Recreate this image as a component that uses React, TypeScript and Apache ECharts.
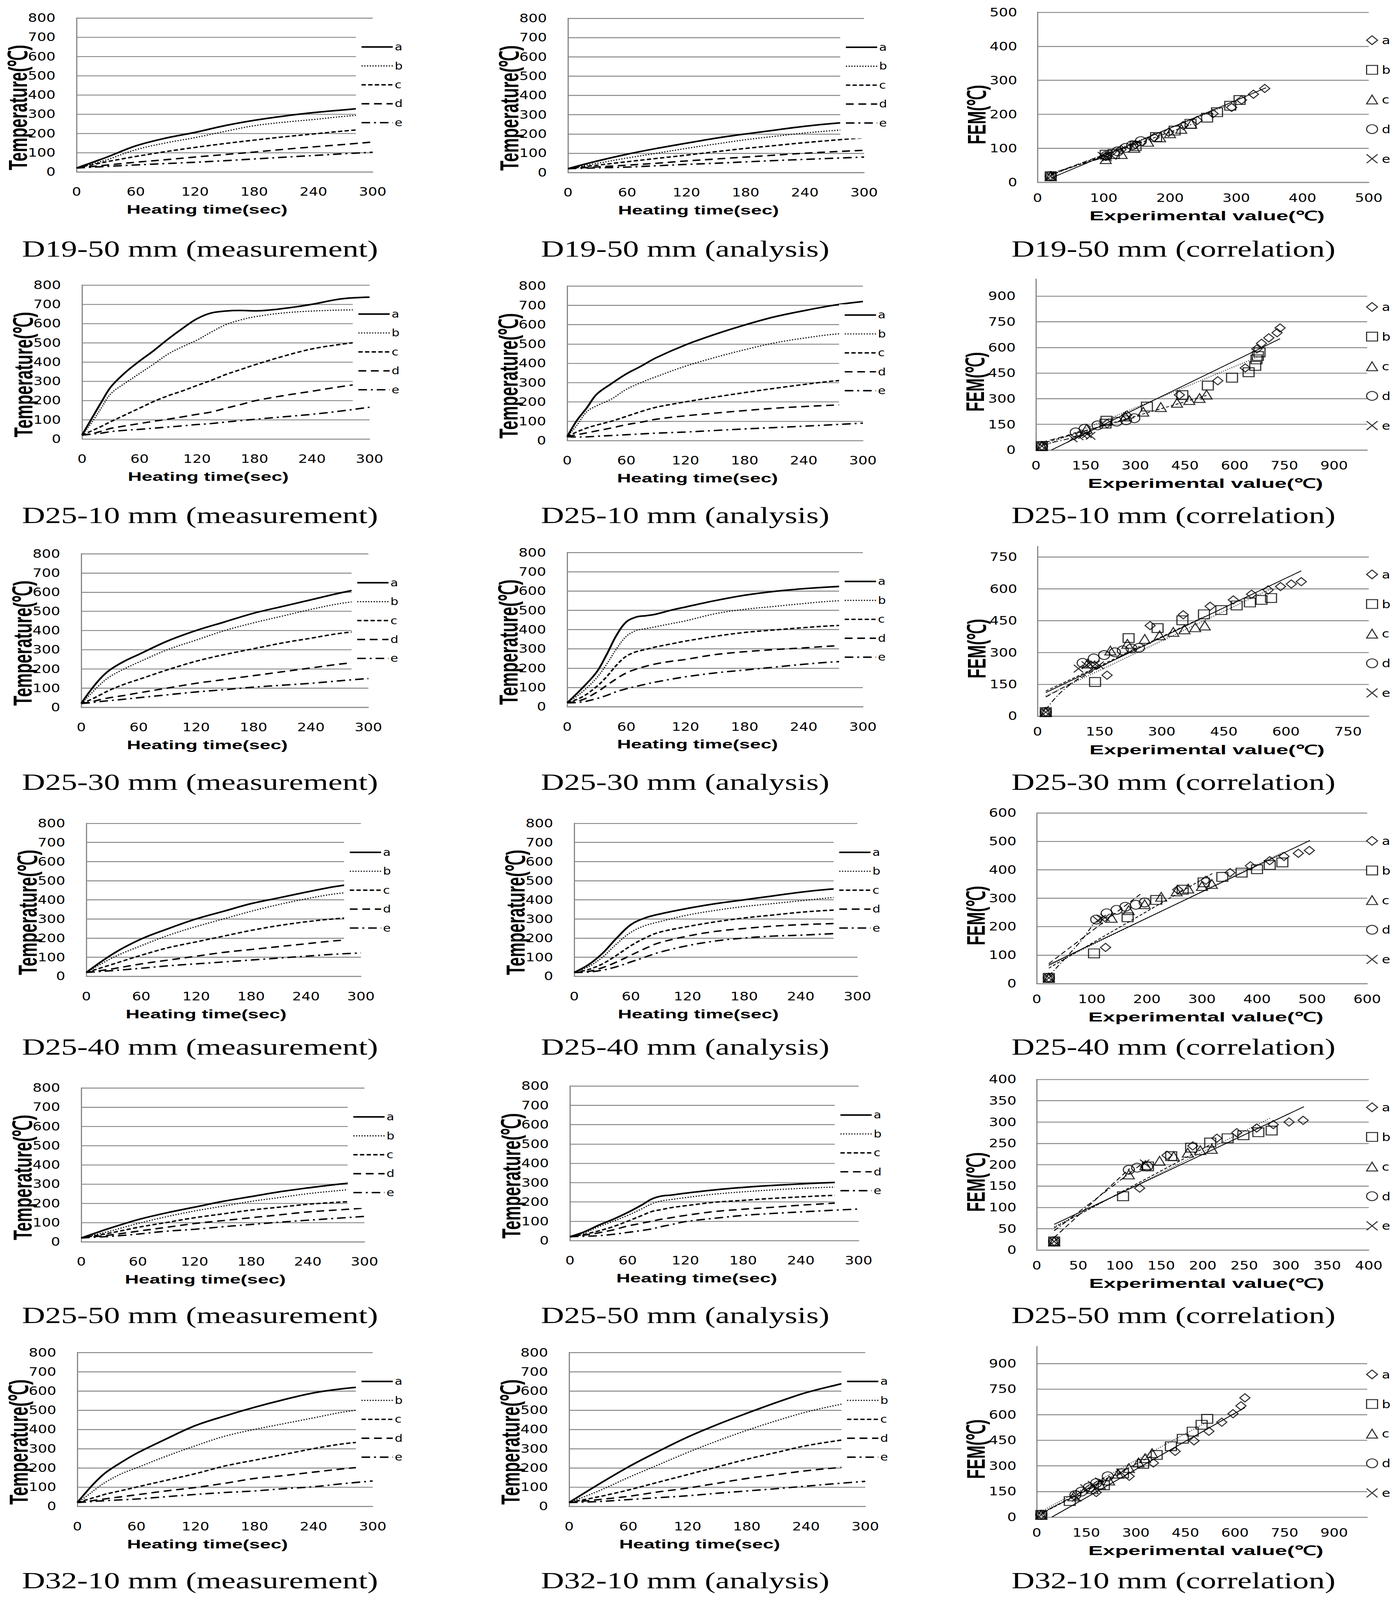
import React, { useEffect, useRef } from "react";
import * as echarts from "echarts";

// ======================= DATA =======================
const T_STD = [0, 30, 60, 90, 120, 150, 180, 210, 240, 270, 300];

// D19-50 measurement
const D1950_MEAS_T = T_STD;
const D1950_MEAS_A = [20, 75, 135, 175, 205, 240, 268, 290, 308, 322, 335];
const D1950_MEAS_B = [20, 62, 115, 150, 178, 210, 240, 258, 272, 288, 300];
const D1950_MEAS_C = [20, 52, 80, 105, 127, 147, 165, 182, 197, 212, 225];
const D1950_MEAS_D = [20, 35, 50, 63, 77, 90, 103, 117, 130, 142, 155];
const D1950_MEAS_E = [20, 28, 36, 43, 50, 58, 67, 76, 85, 94, 102];

// D19-50 analysis
const D1950_ANAL_T = T_STD;
const D1950_ANAL_A = [20, 60, 95, 125, 152, 178, 200, 220, 240, 255, 265];
const D1950_ANAL_B = [20, 48, 75, 100, 125, 148, 170, 188, 205, 218, 230];
const D1950_ANAL_C = [20, 38, 56, 73, 90, 108, 125, 140, 155, 168, 180];
const D1950_ANAL_D = [20, 29, 38, 48, 60, 70, 80, 90, 100, 108, 115];
const D1950_ANAL_E = [20, 24, 28, 35, 42, 48, 55, 62, 68, 74, 80];

// D25-10 measurement
const D2510_MEAS_T = [0, 10, 20, 30, 45, 60, 75, 90, 105, 120, 135, 150, 165, 180, 210, 240, 270, 300];
const D2510_MEAS_A = [20, 105, 190, 270, 345, 405, 460, 520, 575, 625, 655, 665, 668, 666, 678, 700, 728, 737];
const D2510_MEAS_B = [20, 85, 160, 235, 290, 340, 390, 442, 480, 514, 556, 594, 618, 635, 655, 665, 670, 672];
const D2510_MEAS_C = [20, 42, 65, 90, 125, 160, 195, 225, 250, 278, 305, 335, 360, 385, 430, 468, 492, 510];
const D2510_MEAS_D = [20, 27, 40, 55, 68, 80, 92, 103, 115, 128, 140, 160, 178, 198, 225, 248, 272, 292];
const D2510_MEAS_E = [20, 25, 30, 38, 45, 50, 56, 62, 68, 75, 80, 88, 95, 102, 115, 128, 145, 165];

// D25-10 analysis
const D2510_ANAL_T = [0, 10, 20, 30, 45, 60, 75, 90, 120, 150, 180, 210, 240, 270, 300];
const D2510_ANAL_A = [20, 105, 170, 240, 295, 345, 385, 428, 495, 550, 598, 640, 672, 700, 720];
const D2510_ANAL_B = [20, 80, 150, 180, 215, 265, 300, 330, 385, 430, 470, 505, 530, 550, 560];
const D2510_ANAL_C = [20, 45, 65, 80, 100, 125, 150, 172, 200, 225, 248, 270, 290, 308, 318];
const D2510_ANAL_D = [20, 30, 40, 50, 65, 82, 95, 110, 128, 142, 155, 167, 176, 183, 188];
const D2510_ANAL_E = [20, 18, 19, 22, 26, 30, 34, 38, 44, 52, 60, 67, 74, 82, 90];

// D25-30 measurement
const D2530_MEAS_T = [0, 10, 20, 30, 45, 60, 90, 120, 150, 180, 210, 240, 270, 300];
const D2530_MEAS_A = [20, 90, 150, 195, 240, 275, 345, 400, 445, 490, 525, 560, 595, 625];
const D2530_MEAS_B = [20, 70, 120, 160, 200, 235, 300, 350, 400, 440, 475, 510, 540, 560];
const D2530_MEAS_C = [20, 40, 65, 90, 120, 145, 195, 240, 275, 305, 335, 360, 385, 400];
const D2530_MEAS_D = [20, 28, 40, 50, 62, 75, 100, 125, 145, 165, 185, 205, 225, 240];
const D2530_MEAS_E = [20, 24, 30, 35, 42, 50, 65, 80, 92, 105, 115, 125, 138, 150];

// D25-30 analysis
const D2530_ANAL_T = [0, 15, 30, 40, 50, 60, 70, 80, 90, 105, 120, 150, 180, 210, 240, 270, 300];
const D2530_ANAL_A = [20, 95, 180, 270, 370, 440, 465, 472, 480, 500, 517, 550, 578, 598, 612, 622, 630];
const D2530_ANAL_B = [20, 75, 150, 220, 300, 365, 395, 405, 415, 430, 445, 482, 505, 520, 535, 548, 555];
const D2530_ANAL_C = [20, 50, 105, 155, 215, 262, 285, 297, 310, 325, 340, 365, 385, 398, 410, 420, 425];
const D2530_ANAL_D = [20, 35, 75, 110, 145, 175, 195, 210, 222, 235, 245, 270, 285, 296, 305, 315, 320];
const D2530_ANAL_E = [20, 24, 42, 58, 78, 93, 105, 117, 128, 142, 155, 175, 190, 205, 220, 232, 238];

// D25-40 measurement
const D2540_MEAS_T = T_STD;
const D2540_MEAS_A = [20, 120, 195, 250, 300, 340, 380, 410, 440, 468, 488];
const D2540_MEAS_B = [20, 100, 160, 215, 260, 300, 340, 375, 405, 430, 445];
const D2540_MEAS_C = [20, 65, 110, 150, 180, 210, 240, 265, 285, 300, 310];
const D2540_MEAS_D = [20, 40, 65, 85, 105, 125, 140, 155, 170, 185, 195];
const D2540_MEAS_E = [20, 30, 42, 55, 65, 75, 85, 95, 105, 115, 122];

// D25-40 analysis
const D2540_ANAL_T = [0, 15, 30, 45, 60, 75, 90, 120, 150, 180, 210, 240, 270, 300];
const D2540_ANAL_A = [20, 60, 120, 200, 270, 305, 325, 355, 380, 400, 420, 440, 455, 465];
const D2540_ANAL_B = [20, 50, 100, 170, 230, 265, 285, 320, 345, 365, 380, 395, 410, 420];
const D2540_ANAL_C = [20, 35, 65, 110, 160, 200, 230, 260, 285, 305, 320, 335, 345, 350];
const D2540_ANAL_D = [20, 25, 45, 75, 110, 145, 175, 210, 235, 250, 262, 270, 275, 280];
const D2540_ANAL_E = [20, 22, 32, 50, 75, 100, 125, 160, 185, 200, 210, 215, 222, 228];

// D25-50 measurement
const D2550_MEAS_T = T_STD;
const D2550_MEAS_A = [20, 70, 115, 150, 180, 210, 235, 260, 280, 298, 312];
const D2550_MEAS_B = [20, 55, 95, 130, 160, 185, 210, 230, 250, 265, 278];
const D2550_MEAS_C = [20, 45, 75, 100, 125, 145, 165, 180, 195, 205, 212];
const D2550_MEAS_D = [20, 35, 55, 75, 95, 110, 125, 140, 155, 165, 175];
const D2550_MEAS_E = [20, 28, 40, 55, 65, 78, 90, 102, 112, 122, 132];

// D25-50 analysis
const D2550_ANAL_T = [0, 15, 30, 45, 60, 75, 85, 95, 105, 120, 150, 180, 210, 240, 270, 300];
const D2550_ANAL_A = [20, 45, 80, 110, 145, 185, 215, 230, 235, 245, 262, 275, 285, 293, 300, 303];
const D2550_ANAL_B = [20, 40, 72, 100, 130, 165, 190, 205, 212, 222, 240, 252, 262, 270, 276, 280];
const D2550_ANAL_C = [20, 32, 50, 72, 100, 130, 150, 160, 170, 180, 198, 208, 218, 226, 233, 236];
const D2550_ANAL_D = [20, 28, 40, 55, 75, 90, 100, 110, 118, 130, 150, 162, 172, 183, 192, 200];
const D2550_ANAL_E = [20, 22, 25, 32, 42, 52, 60, 72, 82, 98, 115, 130, 140, 148, 156, 163];

// D32-10 measurement
const D3210_MEAS_T = [0, 10, 20, 30, 45, 60, 90, 120, 150, 180, 210, 240, 270, 300];
const D3210_MEAS_A = [20, 80, 135, 180, 230, 275, 350, 420, 470, 515, 555, 590, 612, 625];
const D3210_MEAS_B = [20, 55, 95, 130, 170, 200, 260, 315, 365, 400, 430, 460, 490, 510];
const D3210_MEAS_C = [20, 35, 50, 65, 82, 100, 135, 170, 210, 240, 270, 300, 325, 340];
const D3210_MEAS_D = [20, 26, 33, 40, 50, 60, 80, 98, 120, 145, 160, 178, 195, 210];
const D3210_MEAS_E = [20, 23, 27, 30, 34, 38, 50, 62, 72, 80, 92, 102, 118, 132];

// D32-10 analysis
const D3210_ANAL_T = T_STD;
const D3210_ANAL_A = [20, 115, 205, 285, 360, 425, 484, 540, 591, 630, 665];
const D3210_ANAL_B = [20, 80, 150, 215, 280, 340, 395, 445, 490, 525, 555];
const D3210_ANAL_C = [20, 50, 85, 125, 165, 205, 245, 280, 315, 340, 362];
const D3210_ANAL_D = [20, 35, 52, 75, 95, 120, 145, 165, 185, 200, 215];
const D3210_ANAL_E = [20, 25, 35, 45, 55, 68, 80, 92, 105, 118, 130];

// ---- correlation: [experimental, FEM] ----
const C1950_A = [[20, 18], [103, 76], [126, 96], [148, 111], [176, 132], [198, 147], [220, 167], [241, 182], [265, 202], [293, 220], [308, 242], [326, 259], [343, 276]];
const C1950_B = [[20, 18], [103, 81], [115, 83], [148, 106], [179, 133], [207, 152], [231, 172], [256, 190], [271, 206], [291, 225], [305, 242]];
const C1950_C = [[20, 18], [103, 68], [127, 83], [146, 101], [167, 119], [185, 132], [200, 144], [217, 157], [232, 172]];
const C1950_D = [[20, 18], [104, 78], [121, 91], [133, 101], [143, 109], [156, 121]];
const C1950_E = [[20, 18], [98, 78], [105, 73], [112, 78]];
const C1950_TA = [[20, 12], [345, 278]];
const C1950_TB = [[20, 20], [305, 240]];
const C1950_TC = [[20, 22], [232, 170]];
const C1950_TD = [[20, 24], [156, 120]];
const C1950_TE = [[20, 26], [112, 80]];

const C2510_A = [[18, 23], [215, 154], [274, 204], [433, 322], [549, 405], [632, 480], [667, 591], [681, 624], [703, 656], [728, 686], [737, 714]];
const C2510_B = [[18, 23], [210, 154], [213, 171], [335, 254], [442, 321], [519, 377], [592, 423], [642, 455], [662, 492], [666, 530], [670, 550], [675, 571]];
const C2510_C = [[18, 23], [153, 124], [270, 196], [324, 224], [377, 251], [426, 276], [463, 292], [494, 304], [515, 324]];
const C2510_D = [[18, 23], [120, 103], [147, 124], [186, 144], [244, 166], [272, 174], [297, 186]];
const C2510_E = [[18, 23], [111, 68], [129, 80], [142, 88], [154, 93], [165, 83]];
const C2510_TA = [[47, 0], [737, 651]];
const C2510_TB = [[18, 20], [670, 545]];
const C2510_TC = [[18, 38], [515, 319]];
const C2510_TD = [[18, 45], [297, 190]];
const C2510_TE = [[18, 30], [165, 95]];

const C2530_A = [[20, 19], [168, 193], [272, 427], [352, 478], [417, 518], [473, 548], [517, 575], [557, 595], [587, 611], [613, 623], [637, 634]];
const C2530_B = [[20, 19], [139, 161], [220, 368], [290, 415], [350, 452], [402, 480], [444, 500], [481, 522], [513, 536], [541, 548], [564, 557]];
const C2530_C = [[20, 19], [121, 248], [176, 309], [217, 341], [259, 364], [295, 381], [328, 397], [355, 409], [381, 419], [404, 427]];
const C2530_D = [[20, 19], [109, 251], [136, 272], [161, 288], [187, 301], [206, 310], [227, 319], [245, 322]];
const C2530_E = [[20, 19], [99, 224], [118, 240], [128, 244], [139, 244], [149, 240]];
const C2530_TA = [[20, 111], [637, 685]];
const C2530_TB = [[20, 95], [564, 600]];
const C2530_TC = [[20, 118], [404, 470]];
const C2530_TD = [[20, 90], [245, 330]];
const C2530_TE = [[20, 31], [50, 100], [80, 150], [149, 245]];

const C2540_A = [[22, 20], [125, 127], [256, 330], [307, 363], [351, 390], [388, 414], [423, 432], [449, 447], [475, 458], [495, 468]];
const C2540_B = [[22, 20], [104, 106], [165, 233], [217, 294], [265, 330], [303, 356], [337, 375], [372, 390], [400, 402], [423, 417], [446, 426]];
const C2540_C = [[22, 20], [136, 231], [167, 258], [196, 279], [226, 305], [254, 324], [275, 334], [300, 343], [318, 350]];
const C2540_D = [[22, 20], [108, 225], [127, 247], [145, 259], [161, 270], [180, 277], [196, 285]];
const C2540_E = [[22, 20], [111, 222], [117, 228], [124, 232]];
const C2540_TA = [[22, 66], [496, 503]];
const C2540_TB = [[22, 62], [447, 462]];
const C2540_TC = [[22, 54], [319, 387]];
const C2540_TD = [[22, 70], [188, 314]];
const C2540_TE = [[22, 27], [82, 154], [104, 214]];

const C2550_A = [[21, 20], [124, 145], [157, 222], [188, 244], [217, 262], [241, 275], [265, 286], [285, 294], [304, 300], [321, 304]];
const C2550_B = [[21, 20], [104, 126], [134, 196], [162, 220], [186, 240], [209, 252], [230, 262], [249, 269], [267, 276], [283, 280]];
const C2550_C = [[21, 20], [111, 177], [131, 199], [148, 209], [165, 220], [182, 228], [197, 234], [211, 237]];
const C2550_D = [[21, 20], [111, 188], [121, 193], [133, 196]];
const C2550_E = [[21, 20], [130, 203]];
const C2550_TA = [[21, 60], [322, 336]];
const C2550_TB = [[21, 55], [282, 310]];
const C2550_TC = [[21, 52], [212, 250]];
const C2550_TD = [[21, 29], [112, 191]];
const C2550_TE = [[21, 45], [130, 207]];

const C3210_A = [[14, 13], [180, 144], [280, 239], [353, 317], [419, 385], [476, 447], [521, 503], [560, 556], [594, 606], [618, 652], [630, 699]];
const C3210_B = [[14, 13], [100, 94], [203, 186], [261, 256], [322, 312], [363, 364], [406, 415], [442, 459], [472, 501], [499, 541], [516, 576]];
const C3210_C = [[14, 13], [112, 121], [169, 164], [191, 191], [219, 214], [246, 254], [279, 287], [308, 320], [328, 345], [349, 375]];
const C3210_D = [[14, 13], [117, 129], [135, 149], [158, 174], [180, 199], [215, 239]];
const C3210_E = [[14, 13], [121, 114], [146, 169], [169, 189], [191, 209], [255, 261]];
const C3210_TA = [[46, 0], [630, 642]];
const C3210_TB = [[14, 33], [519, 561]];
const C3210_TC = [[14, 20], [349, 360]];
const C3210_TD = [[14, 22], [215, 230]];
const C3210_TE = [[14, 25], [255, 255]];

const SERIES_NAMES = ["a", "b", "c", "d", "e"];
const CORR_SERIES_NAMES = ["ka", "kb", "kc", "kd", "ke"];

const PANELS: any[] = [
  { kind: "time", caption: "D19-50 mm (measurement)", t: D1950_MEAS_T, v: [D1950_MEAS_A, D1950_MEAS_B, D1950_MEAS_C, D1950_MEAS_D, D1950_MEAS_E] },
  { kind: "time", caption: "D19-50 mm (analysis)", t: D1950_ANAL_T, v: [D1950_ANAL_A, D1950_ANAL_B, D1950_ANAL_C, D1950_ANAL_D, D1950_ANAL_E] },
  { kind: "corr", caption: "D19-50 mm (correlation)", max: 500, interval: 100, pts: [C1950_A, C1950_B, C1950_C, C1950_D, C1950_E], trends: [C1950_TA, C1950_TB, C1950_TC, C1950_TD, C1950_TE] },
  { kind: "time", caption: "D25-10 mm (measurement)", t: D2510_MEAS_T, v: [D2510_MEAS_A, D2510_MEAS_B, D2510_MEAS_C, D2510_MEAS_D, D2510_MEAS_E] },
  { kind: "time", caption: "D25-10 mm (analysis)", t: D2510_ANAL_T, v: [D2510_ANAL_A, D2510_ANAL_B, D2510_ANAL_C, D2510_ANAL_D, D2510_ANAL_E] },
  { kind: "corr", caption: "D25-10 mm (correlation)", max: 1000, interval: 150, pts: [C2510_A, C2510_B, C2510_C, C2510_D, C2510_E], trends: [C2510_TA, C2510_TB, C2510_TC, C2510_TD, C2510_TE] },
  { kind: "time", caption: "D25-30 mm (measurement)", t: D2530_MEAS_T, v: [D2530_MEAS_A, D2530_MEAS_B, D2530_MEAS_C, D2530_MEAS_D, D2530_MEAS_E] },
  { kind: "time", caption: "D25-30 mm (analysis)", t: D2530_ANAL_T, v: [D2530_ANAL_A, D2530_ANAL_B, D2530_ANAL_C, D2530_ANAL_D, D2530_ANAL_E] },
  { kind: "corr", caption: "D25-30 mm (correlation)", max: 800, interval: 150, pts: [C2530_A, C2530_B, C2530_C, C2530_D, C2530_E], trends: [C2530_TA, C2530_TB, C2530_TC, C2530_TD, C2530_TE] },
  { kind: "time", caption: "D25-40 mm (measurement)", t: D2540_MEAS_T, v: [D2540_MEAS_A, D2540_MEAS_B, D2540_MEAS_C, D2540_MEAS_D, D2540_MEAS_E] },
  { kind: "time", caption: "D25-40 mm (analysis)", t: D2540_ANAL_T, v: [D2540_ANAL_A, D2540_ANAL_B, D2540_ANAL_C, D2540_ANAL_D, D2540_ANAL_E] },
  { kind: "corr", caption: "D25-40 mm (correlation)", max: 600, interval: 100, pts: [C2540_A, C2540_B, C2540_C, C2540_D, C2540_E], trends: [C2540_TA, C2540_TB, C2540_TC, C2540_TD, C2540_TE] },
  { kind: "time", caption: "D25-50 mm (measurement)", t: D2550_MEAS_T, v: [D2550_MEAS_A, D2550_MEAS_B, D2550_MEAS_C, D2550_MEAS_D, D2550_MEAS_E] },
  { kind: "time", caption: "D25-50 mm (analysis)", t: D2550_ANAL_T, v: [D2550_ANAL_A, D2550_ANAL_B, D2550_ANAL_C, D2550_ANAL_D, D2550_ANAL_E] },
  { kind: "corr", caption: "D25-50 mm (correlation)", max: 400, interval: 50, pts: [C2550_A, C2550_B, C2550_C, C2550_D, C2550_E], trends: [C2550_TA, C2550_TB, C2550_TC, C2550_TD, C2550_TE] },
  { kind: "time", caption: "D32-10 mm (measurement)", t: D3210_MEAS_T, v: [D3210_MEAS_A, D3210_MEAS_B, D3210_MEAS_C, D3210_MEAS_D, D3210_MEAS_E] },
  { kind: "time", caption: "D32-10 mm (analysis)", t: D3210_ANAL_T, v: [D3210_ANAL_A, D3210_ANAL_B, D3210_ANAL_C, D3210_ANAL_D, D3210_ANAL_E] },
  { kind: "corr", caption: "D32-10 mm (correlation)", max: 1000, interval: 150, pts: [C3210_A, C3210_B, C3210_C, C3210_D, C3210_E], trends: [C3210_TA, C3210_TB, C3210_TC, C3210_TD, C3210_TE] },
];

// ======================= LAYOUT / STYLE =======================
const FIG_W = 3584;
const FIG_H = 5074;
const LAYOUT = [
  { L: 196, R: 954, T: 57, B: 545 }, { L: 1454, R: 2212, T: 58, B: 547 }, { L: 2656, R: 3504, T: 39, B: 578 },
  { L: 210, R: 946, T: 904, B: 1392 }, { L: 1452, R: 2209, T: 907, B: 1397 }, { L: 2652, R: 3500, T: 885, B: 1427 },
  { L: 208, R: 943, T: 1756, B: 2243 }, { L: 1452, R: 2209, T: 1752, B: 2241 }, { L: 2656, R: 3504, T: 1733, B: 2271 },
  { L: 221, R: 924, T: 2611, B: 3096 }, { L: 1470, R: 2195, T: 2611, B: 3096 }, { L: 2654, R: 3500, T: 2578, B: 3119 },
  { L: 208, R: 933, T: 3450, B: 3938 }, { L: 1459, R: 2198, T: 3444, B: 3934 }, { L: 2654, R: 3504, T: 3423, B: 3964 },
  { L: 198, R: 954, T: 4289, B: 4777 }, { L: 1457, R: 2215, T: 4289, B: 4777 }, { L: 2654, R: 3500, T: 4270, B: 4811 },
];
const CAPTION_Y = [790, 1635, 2480, 3320, 4172, 5013];
const CAPTION_X = [512, 1754, 3004];

const GRAY = "#878787";
const TICK = { fontFamily: "DejaVu Sans", fontSize: 37, color: "#000" };
const LINE_STYLES: any[] = [
  { color: "#000", width: 5, type: "solid" },
  { color: "#000", width: 3.5, type: [3, 4], cap: "butt" },
  { color: "#000", width: 4.5, type: [11, 6] },
  { color: "#000", width: 4.5, type: [20, 12] },
  { color: "#000", width: 4.5, type: [22, 10, 5, 10] },
];
const TREND_STYLES: any[] = [
  { color: "#000", width: 2.5, type: "solid" },
  { color: "#000", width: 2.5, type: [2, 4] },
  { color: "#000", width: 2.5, type: [8, 5] },
  { color: "#000", width: 2.5, type: [14, 8] },
  { color: "#000", width: 2.5, type: [14, 6, 3, 6] },
];
const SYMBOLS = ["diamond", "rect", "triangle", "circle", "path://M0,0L10,10M10,0L0,10"];
const SYMBOL_SIZES = [26, 28, 28, 28, 24];

function txt(x: number, y: number, text: string, opts: any) {
  const { rotate, scale, family, size, weight } = opts;
  const el: any = {
    type: "text",
    x,
    y,
    silent: true,
    style: {
      text,
      fill: "#000",
      fontFamily: family,
      fontSize: size,
      fontWeight: weight || "normal",
      align: "center",
      verticalAlign: "middle",
    },
  };
  if (rotate) {
    el.rotation = Math.PI / 2;
    el.scaleY = scale;
  } else {
    el.scaleX = scale;
  }
  return el;
}

function buildOption() {
  const grid: any[] = [];
  const xAxis: any[] = [];
  const yAxis: any[] = [];
  const series: any[] = [];
  const legend: any[] = [];
  const graphic: any[] = [];

  PANELS.forEach((p, i) => {
    const box = LAYOUT[i];
    const row = Math.floor(i / 3);
    const col = i % 3;
    const isTime = p.kind === "time";
    grid.push({
      left: box.L,
      top: box.T,
      width: box.R - box.L,
      height: box.B - box.T,
      containLabel: false,
      outerBoundsMode: "none",
    });
    const xMax = isTime ? 300 : p.max;
    const xInt = isTime ? 60 : p.interval;
    const yMax = isTime ? 800 : p.max;
    const yInt = isTime ? 100 : p.interval;
    const showMax = yMax % yInt === 0;
    xAxis.push({
      gridIndex: i,
      type: "value",
      min: 0,
      max: xMax,
      interval: xInt,
      axisLine: { show: true, onZero: false, lineStyle: { color: GRAY, width: 3 } },
      axisTick: { show: false },
      splitLine: { show: false },
      axisLabel: { ...TICK, margin: isTime ? 45 : 31, showMaxLabel: showMax, showMinLabel: true },
    });
    yAxis.push({
      gridIndex: i,
      type: "value",
      min: 0,
      max: yMax,
      interval: yInt,
      axisLine: { show: true, onZero: false, lineStyle: { color: GRAY, width: 3 } },
      axisTick: { show: false },
      splitLine: { show: true, showMaxLine: showMax, lineStyle: { color: GRAY, width: 3 } },
      axisLabel: { ...TICK, margin: isTime ? 54 : 52, showMaxLabel: showMax, showMinLabel: true },
    });

    if (isTime) {
      p.v.forEach((vals: number[], k: number) => {
        series.push({
          type: "line",
          name: SERIES_NAMES[k],
          xAxisIndex: i,
          yAxisIndex: i,
          data: p.t.map((t: number, j: number) => [t, vals[j]]),
          smooth: 0.35,
          symbol: "none",
          lineStyle: LINE_STYLES[k],
          z: 2,
          silent: true,
        });
      });
      const lineStart = col === 0 ? box.R - 31 : box.R - 49;
      legend.push({
        orient: "vertical",
        left: lineStart - 12,
        top: box.T + 58,
        data: SERIES_NAMES.map((n, k) => ({ name: n, lineStyle: { type: LINE_STYLES[k].type, width: LINE_STYLES[k].width } })),
        itemWidth: 80,
        itemHeight: 20,
        itemGap: 28,
        padding: [18, 24, 33, 12],
        backgroundColor: "#fff",
        selectedMode: false,
        textStyle: { fontFamily: "DejaVu Sans", fontSize: 32, color: "#000", lineHeight: 32 },
        itemStyle: { color: "rgba(0,0,0,0)", borderColor: "rgba(0,0,0,0)", borderWidth: 0, opacity: 0 },
        lineStyle: { width: 4.5, color: "#000" },
        z: 6,
      });
      graphic.push(txt(box.L - 150, (box.T + box.B) / 2 + 40, "Temperature(℃)", { rotate: true, scale: 1.3, family: "Liberation Sans", size: 52, weight: "bold" }));
      graphic.push(txt((box.L + box.R) / 2 - 45, box.B + 120, "Heating time(sec)", { rotate: false, scale: 1.3, family: "Liberation Sans", size: 38, weight: "bold" }));
    } else {
      p.trends.forEach((pts: number[][], k: number) => {
        series.push({
          type: "line",
          name: "t" + SERIES_NAMES[k],
          xAxisIndex: i,
          yAxisIndex: i,
          data: pts,
          smooth: pts.length > 2 ? 0.4 : false,
          symbol: "none",
          lineStyle: TREND_STYLES[k],
          z: 2,
          silent: true,
        });
      });
      p.pts.forEach((pts: number[][], k: number) => {
        series.push({
          type: "scatter",
          name: CORR_SERIES_NAMES[k],
          xAxisIndex: i,
          yAxisIndex: i,
          data: pts,
          symbol: SYMBOLS[k],
          symbolSize: SYMBOL_SIZES[k],
          itemStyle: { color: "rgba(0,0,0,0)", borderColor: "#000", borderWidth: 3 },
          z: 3,
          silent: true,
        });
      });
      legend.push({
        orient: "vertical",
        left: 3497,
        top: box.T + 71,
        data: CORR_SERIES_NAMES.map((n, k) => ({ name: n, icon: SYMBOLS[k] })),
        formatter: (n: string) => n.slice(1),
        itemWidth: 28,
        itemHeight: 28,
        itemGap: 59,
        padding: 0,
        selectedMode: false,
        textStyle: { fontFamily: "DejaVu Sans", fontSize: 35, color: "#000", lineHeight: 32, padding: [0, 0, 0, 6] },
        itemStyle: { color: "rgba(0,0,0,0)", borderColor: "#000", borderWidth: 3 },
        z: 6,
      });
      graphic.push(txt(box.L - 156, (box.T + box.B) / 2 + 55, "FEM(℃)", { rotate: true, scale: 1.3, family: "Liberation Sans", size: 50, weight: "bold" }));
      graphic.push(txt((box.L + box.R) / 2 + 10, box.B + 106, "Experimental value(℃)", { rotate: false, scale: 1.33, family: "Liberation Sans", size: 42, weight: "bold" }));
    }
    graphic.push(txt(CAPTION_X[col], CAPTION_Y[row], p.caption, { rotate: false, scale: 1.14, family: "Liberation Serif", size: 72 }));
  });

  return {
    animation: false,
    backgroundColor: "#fff",
    grid,
    xAxis,
    yAxis,
    series,
    legend,
    graphic,
  };
}

export default function App() {
  const ref = useRef<HTMLDivElement>(null);
  // The browser viewport may be shorter than the figure; fit the full figure into it vertically.
  const vh = typeof window !== "undefined" ? window.innerHeight : FIG_H;
  const sy = vh > 0 && vh < FIG_H ? vh / FIG_H : 1;
  useEffect(() => {
    if (!ref.current) return;
    document.documentElement.style.overflow = "hidden";
    const chart = echarts.init(ref.current, null, { renderer: "svg" });
    chart.setOption(buildOption() as any);
    return () => chart.dispose();
  }, []);
  return (
    <div
      ref={ref}
      style={{
        position: "absolute",
        left: 0,
        top: 0,
        width: FIG_W,
        height: FIG_H,
        background: "#fff",
        transform: `scale(1, ${sy})`,
        transformOrigin: "0 0",
      }}
    />
  );
}
